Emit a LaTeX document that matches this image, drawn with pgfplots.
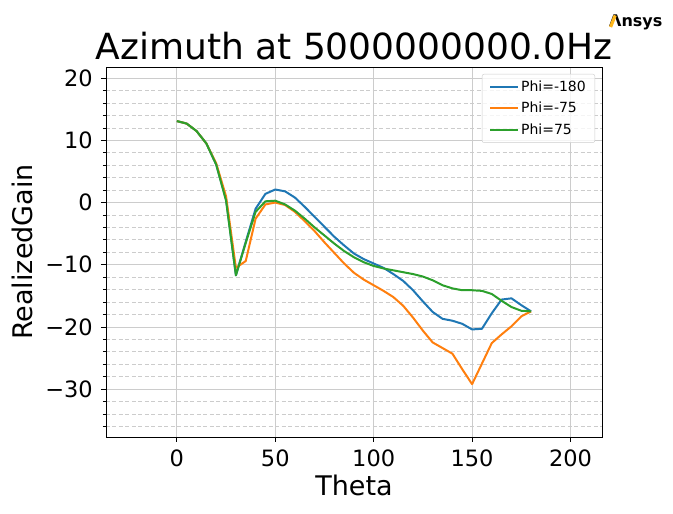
\documentclass[border=0pt]{standalone}
\usepackage{pgfplots}
\pgfplotsset{compat=1.18}
\usepackage{fontspec}
\setmainfont{DejaVu Sans}
\definecolor{c1}{HTML}{1F77B4}
\definecolor{c2}{HTML}{FF7F0E}
\definecolor{c3}{HTML}{2CA02C}
\definecolor{gridc}{HTML}{CCCCCC}
\definecolor{ansysgold}{HTML}{FFB71B}
\begin{document}
\begin{tikzpicture}
\useasboundingbox (0,0) rectangle (673pt,514pt);
\begin{axis}[
 at={(106pt,77pt)}, anchor=south west,
 scale only axis, width=496pt, height=370pt,
 xmin=-36, xmax=216, ymin=-37.7, ymax=21.8,
 xtick={0,50,100,150,200},
 ytick={-30,-20,-10,0,10,20},
 yticklabels={−30,−20,−10,0,10,20},
 minor xtick={},
 minor ytick={-36,-34,-32,-28,-26,-24,-22,-18,-16,-14,-12,-8,-6,-4,-2,2,4,6,8,12,14,16,18},
 tick align=outside, tick pos=left,
 major tick length=5pt, minor tick length=3pt,
 every tick/.style={black, line width=0.8pt},
 grid=both,
 major grid style={gridc, line width=0.8pt},
 minor grid style={gridc, dashed, dash pattern=on 4pt off 2.5pt, line width=0.8pt},
 axis line style={black, line width=0.8pt},
 /pgf/number format/assume math mode=true,
 xticklabel style={font=\fontsize{22.5}{22.5}\selectfont, anchor=base, inner sep=0pt, yshift=-25pt},
 yticklabel style={font=\fontsize{22.5}{22.5}\selectfont, anchor=east, inner sep=0pt, xshift=-8pt},
 title={Azimuth at 5000000000.0Hz},
 title style={font=\fontsize{36}{40}\selectfont, at={(axis description cs:0.5,1.004)}, anchor=base, inner sep=0pt},
 xlabel={Theta},
 xlabel style={font=\fontsize{27}{30}\selectfont, at={(axis description cs:0.5,-0.157)}, anchor=base, inner sep=0pt},
 ylabel={RealizedGain},
 ylabel style={font=\fontsize{27}{30}\selectfont, at={(axis description cs:-0.1472,0.5)}, anchor=base, inner sep=0pt},
 legend style={at={(axis description cs:1,1)}, anchor=north east, xshift=-7pt, yshift=-7pt,
   draw=gridc, rounded corners=2pt, fill=white, fill opacity=0.8, text opacity=1,
   font=\fontsize{14}{16}\selectfont, row sep=5pt, inner xsep=7pt, inner ysep=5pt},
 legend cell align=left,
 legend image code/.code={\draw[#1] (0pt,0pt) -- (28pt,0pt);},
 every axis plot/.append style={line width=2pt, line join=round},
]
\addplot[c1] coordinates {
(0,13.1)(5,12.7)(10,11.5)(15,9.5)(20,6.1)(25,0.5)(30,-11.7)(35,-6.3)(40,-1.0)(45,1.4)
(50,2.1)(55,1.8)(60,0.8)(65,-0.7)(70,-2.3)(75,-3.9)(80,-5.5)(85,-6.9)(90,-8.2)(95,-9.1)
(100,-9.8)(105,-10.5)(110,-11.5)(115,-12.6)(120,-14.1)(125,-15.9)(130,-17.6)(135,-18.7)(140,-19.0)(145,-19.5)
(150,-20.4)(155,-20.3)(160,-17.8)(165,-15.6)(170,-15.4)(175,-16.5)(180,-17.5)};
\addlegendentry{Phi=-180}
\addplot[c2] coordinates {
(0,13.1)(5,12.7)(10,11.5)(15,9.5)(20,6.3)(25,1.0)(30,-10.5)(35,-9.4)(40,-2.6)(45,-0.3)
(50,0.0)(55,-0.4)(60,-1.5)(65,-3.0)(70,-4.6)(75,-6.4)(80,-8.1)(85,-9.8)(90,-11.3)(95,-12.4)
(100,-13.3)(105,-14.2)(110,-15.2)(115,-16.6)(120,-18.5)(125,-20.6)(130,-22.5)(135,-23.4)(140,-24.3)(145,-26.8)
(150,-29.2)(155,-25.9)(160,-22.6)(165,-21.2)(170,-19.9)(175,-18.3)(180,-17.5)};
\addlegendentry{Phi=-75}
\addplot[c3] coordinates {
(0,13.1)(5,12.7)(10,11.5)(15,9.5)(20,6.1)(25,0.3)(30,-11.7)(35,-6.5)(40,-1.5)(45,0.2)
(50,0.3)(55,-0.3)(60,-1.3)(65,-2.6)(70,-4.0)(75,-5.3)(80,-6.6)(85,-7.8)(90,-8.8)(95,-9.6)
(100,-10.2)(105,-10.6)(110,-10.9)(115,-11.2)(120,-11.5)(125,-11.9)(130,-12.5)(135,-13.3)(140,-13.8)(145,-14.1)
(150,-14.1)(155,-14.2)(160,-14.7)(165,-15.8)(170,-16.8)(175,-17.4)(180,-17.5)};
\addlegendentry{Phi=75}
\end{axis}
\node[anchor=base west, inner sep=0pt, font=\fontsize{16}{16}\selectfont\bfseries] at (609pt,487pt) {Λnsys};
\draw[ansysgold, line width=3.2pt] (610.6pt,487pt) -- (615.2pt,498.6pt);
\end{tikzpicture}
\end{document}
